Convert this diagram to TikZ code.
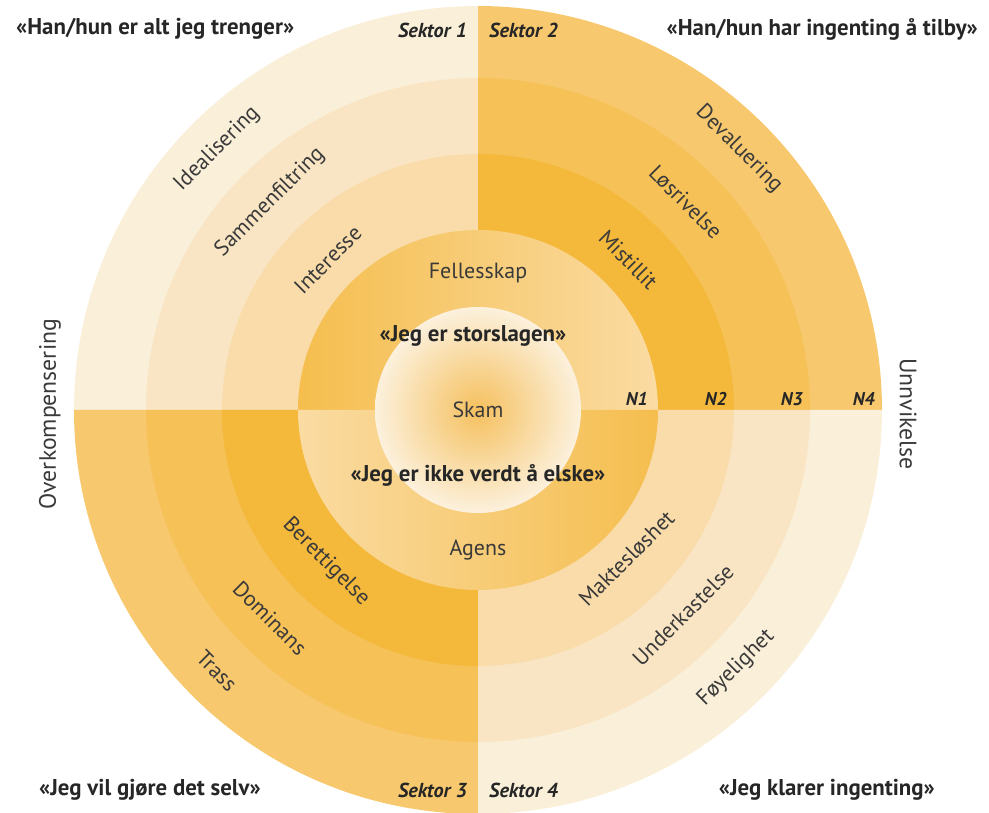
\documentclass[tikz,border=0pt]{standalone}
\usepackage{fontspec}
\setmainfont{PT Sans}

\definecolor{paleA}{HTML}{FAEFD9}
\definecolor{paleB}{HTML}{F9E5C4}
\definecolor{paleC}{HTML}{F9DCAA}
\definecolor{warmA}{HTML}{F7C86E}
\definecolor{warmB}{HTML}{F6C156}
\definecolor{warmC}{HTML}{F4B83B}
\definecolor{ringdark}{HTML}{F5BE4E}
\definecolor{ringlight}{HTML}{FADBA2}
\definecolor{coremid}{HTML}{F5C05E}
\definecolor{coreedge}{HTML}{FCF1DD}
\definecolor{inkdark}{HTML}{262626}
\definecolor{inkgray}{HTML}{3A3A3A}

\begin{document}
\begin{tikzpicture}[
    level/.style={font=\fontsize{12.5}{14}\selectfont, text=inkgray},
    quote/.style={font=\fontsize{13}{15}\selectfont\bfseries, text=inkdark},
    sektor/.style={font=\fontsize{11.5}{13}\selectfont\bfseries\itshape, text=inkdark},
    ringmark/.style={font=\fontsize{10.5}{12}\selectfont\bfseries\itshape, text=inkdark, anchor=south east, inner sep=0pt},
    side/.style={font=\fontsize{13.5}{15}\selectfont, text=inkgray}
]

% Frame
\useasboundingbox (-9.56,-8.06) rectangle (10.22,8.2);

% N4 ring
\fill[paleA] (0,0) -- (90:8.08) arc (90:180:8.08) -- cycle;
\fill[warmA] (0,0) -- (0:8.08) arc (0:90:8.08) -- cycle;
\fill[warmA] (0,0) -- (180:8.08) arc (180:270:8.08) -- cycle;
\fill[paleA] (0,0) -- (270:8.08) arc (270:360:8.08) -- cycle;

% N3 ring
\fill[paleB] (0,0) -- (90:6.64) arc (90:180:6.64) -- cycle;
\fill[warmB] (0,0) -- (0:6.64) arc (0:90:6.64) -- cycle;
\fill[warmB] (0,0) -- (180:6.64) arc (180:270:6.64) -- cycle;
\fill[paleB] (0,0) -- (270:6.64) arc (270:360:6.64) -- cycle;

% N2 ring
\fill[paleC] (0,0) -- (90:5.12) arc (90:180:5.12) -- cycle;
\fill[warmC] (0,0) -- (0:5.12) arc (0:90:5.12) -- cycle;
\fill[warmC] (0,0) -- (180:5.12) arc (180:270:5.12) -- cycle;
\fill[paleC] (0,0) -- (270:5.12) arc (270:360:5.12) -- cycle;

% N1 ring
\shade[left color=ringdark, right color=ringlight] (3.6,0) arc (0:180:3.6) -- cycle;
\shade[left color=ringlight, right color=ringdark] (-3.6,0) arc (180:360:3.6) -- cycle;

% Core
\shade[inner color=coremid, outer color=coreedge] (0,0) circle (2.06);

% Corner quotes
\node[quote, anchor=west] (q1) at (-9.36, 7.62) {«Han/hun er alt jeg trenger»};
\node[quote, anchor=east] (q2) at (10.12, 7.62) {«Han/hun har ingenting å tilby»};
\node[quote, anchor=west] (q3) at (-8.9, -7.6) {«Jeg vil gjøre det selv»};
\node[quote, anchor=east] (q4) at (9.26, -7.6) {«Jeg klarer ingenting»};

% Sector names
\node[sektor, anchor=east] (s1) at (-0.1, 7.6) {Sektor 1};
\node[sektor, anchor=west] (s2) at (0.1, 7.6) {Sektor 2};
\node[sektor, anchor=east] (s3) at (-0.1, -7.6) {Sektor 3};
\node[sektor, anchor=west] (s4) at (0.1, -7.6) {Sektor 4};

% Sector 1
\node[level, rotate=45] (ideal) at (135:7.38) {Idealisering};
\node[level, rotate=45] (sammen) at (135:5.88) {Sammenfiltring};
\node[level, rotate=45] (interesse) at (135:4.25) {Interesse};

% Sector 2
\node[level, rotate=-45] (deval) at (45:7.38) {Devaluering};
\node[level, rotate=-45] (losriv) at (45:5.88) {Løsrivelse};
\node[level, rotate=-45] (mistillit) at (45:4.25) {Mistillit};

% Sector 3
\node[level, rotate=-45] (trass) at (225:7.38) {Trass};
\node[level, rotate=-45] (dominans) at (225:5.88) {Dominans};
\node[level, rotate=-45] (berett) at (225:4.3) {Berettigelse};

% Sector 4
\node[level, rotate=45] (foyelig) at (315:7.3) {Føyelighet};
\node[level, rotate=45] (underkast) at (315:5.8) {Underkastelse};
\node[level, rotate=45] (maktes) at (315:4.2) {Maktesløshet};

% Centre
\node[level] (felles) at (0, 2.74) {Fellesskap};
\node[quote] (stor) at (-0.1, 1.48) {«Jeg er storslagen»};
\node[level] (skam) at (0, 0) {Skam};
\node[quote] (ikke) at (0, -1.3) {«Jeg er ikke verdt å elske»};
\node[level] (agens) at (0, -2.8) {Agens};

% Level marks
\node[ringmark] (n1) at (3.4, 0.08) {N1};
\node[ringmark] (n2) at (4.98, 0.08) {N2};
\node[ringmark] (n3) at (6.5, 0.08) {N3};
\node[ringmark] (n4) at (7.94, 0.08) {N4};

% Sides
\node[side, rotate=90] (overkomp) at (-8.56, -0.08) {Overkompensering};
\node[side, rotate=-90] (unnvik) at (8.6, -0.08) {Unnvikelse};

\end{tikzpicture}
\end{document}
